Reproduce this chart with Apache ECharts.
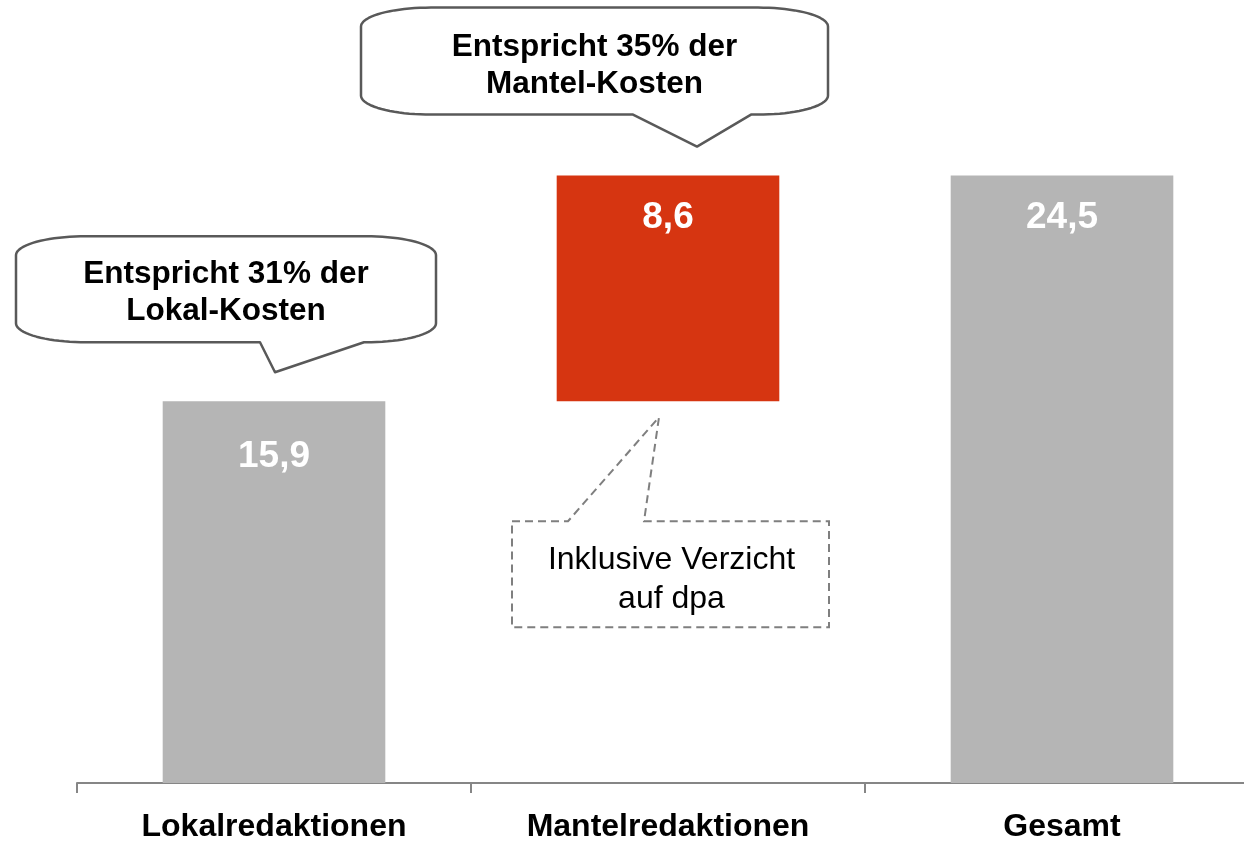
<!DOCTYPE html>
<html>
<head>
<meta charset="utf-8">
<script src="https://cdn.jsdelivr.net/npm/echarts@6/dist/echarts.min.js"></script>
<style>
  html, body { margin: 0; padding: 0; background: #ffffff; overflow: hidden; width: 1244px; height: 843px; }
  #chart { width: 1262px; height: 843px; }
</style>
</head>
<body>
<div id="chart"></div>
<script>
// ---- data ----
const categories = ['Lokalredaktionen', 'Mantelredaktionen', 'Gesamt'];
const values = [15.9, 8.6, 24.5];
const isTotal = [false, false, true];
const calloutLokal = ['Entspricht 31% der', 'Lokal-Kosten'];
const calloutMantel = ['Entspricht 35% der', 'Mantel-Kosten'];
const noteMantel = ['Inklusive Verzicht', 'auf dpa'];

// ---- styles ----
const FONT = "'Liberation Sans', Arial, Helvetica, sans-serif";
const GRAY = '#b5b5b5';
const RED = '#d63511';

// waterfall bases derived from the values
const bases = [];
let running = 0;
values.forEach((v, i) => {
  if (isTotal[i]) { bases.push(0); }
  else { bases.push(running); running += v; }
});

const fmt = v => v.toFixed(1).replace('.', ',');

const chart = echarts.init(document.getElementById('chart'), null, { renderer: 'canvas', width: 1262, height: 843 });

chart.setOption({
  animation: false,
  backgroundColor: '#ffffff',
  grid: { left: 77, top: 110, width: 1182, height: 675, containLabel: false },
  xAxis: {
    type: 'category',
    data: categories,
    axisLine: { show: true, lineStyle: { color: '#868686', width: 2 } },
    axisTick: { show: true, length: 10, lineStyle: { color: '#868686', width: 2 } },
    axisLabel: { color: '#000000', fontFamily: FONT, fontWeight: 'bold', fontSize: 32, margin: 28 }
  },
  yAxis: { type: 'value', min: 1.35, max: 27, show: false, splitLine: { show: false } },
  series: [
    {
      type: 'bar',
      stack: 'wf',
      silent: true,
      barWidth: '56.5%',
      itemStyle: { color: 'transparent' },
      data: bases
    },
    {
      type: 'bar',
      stack: 'wf',
      barWidth: '56.5%',
      itemStyle: {
        color: p => (isTotal[p.dataIndex] || p.dataIndex === 0) ? GRAY : RED
      },
      label: {
        show: true,
        position: 'insideTop',
        color: '#ffffff',
        fontFamily: FONT,
        fontWeight: 'bold',
        fontSize: 37,
        lineHeight: 38,
        formatter: p => fmt(p.value)
      },
      data: values.map((v, i) => ({ value: v, label: { distance: i === 0 ? 37 : 23 } }))
    }
  ]
});

// ---- callouts anchored to the bars ----
function px(cat, val) { return chart.convertToPixel({ gridIndex: 0 }, [cat, val]); }

function quarter(cx, cy, rx, ry, a0, a1, n) {
  const pts = [];
  for (let k = 0; k <= n; k++) {
    const a = a0 + (a1 - a0) * k / n;
    pts.push([cx + rx * Math.cos(a), cy + ry * Math.sin(a)]);
  }
  return pts;
}

function bubblePoints(x0, y0, x1, y1, b1, tip, b2) {
  const rx = 70, ry = 19, n = 20, P = Math.PI;
  let pts = [];
  pts = pts.concat(quarter(x0 + rx, y0 + ry, rx, ry, P, 1.5 * P, n));
  pts = pts.concat(quarter(x1 - rx, y0 + ry, rx, ry, 1.5 * P, 2 * P, n));
  pts = pts.concat(quarter(x1 - rx, y1 - ry, rx, ry, 0, 0.5 * P, n));
  pts.push([b2, y1]);
  pts.push(tip);
  pts.push([b1, y1]);
  pts = pts.concat(quarter(x0 + rx, y1 - ry, rx, ry, 0.5 * P, P, n));
  return pts;
}

const pL = px(0, bases[0] + values[0]);
const pM = px(1, bases[1] + values[1]);
const pMb = px(1, bases[1]);

const tipL = [pL[0] + 1, pL[1] - 29];
const boxL = { x0: pL[0] - 258, x1: pL[0] + 162, y1: tipL[1] - 30 };
boxL.y0 = boxL.y1 - 106;

const tipM = [pM[0] + 29, pM[1] - 29];
const boxM = { x0: pM[0] - 307, x1: pM[0] + 160, y1: tipM[1] - 32 };
boxM.y0 = boxM.y1 - 107;

const tipN = [pMb[0] - 9, pMb[1] + 16];
const boxN = { x0: pMb[0] - 156, x1: pMb[0] + 161, y0: tipN[1] + 104 };
boxN.y1 = boxN.y0 + 106;

const bubbleStyle = { fill: '#ffffff', stroke: '#595959', lineWidth: 2.5, lineJoin: 'round' };
const boldText = { fill: '#000000', font: 'bold 31.5px ' + FONT, textAlign: 'center', textVerticalAlign: 'middle', lineHeight: 37 };

chart.setOption({
  graphic: [
    {
      type: 'polygon', z: 100,
      shape: { points: bubblePoints(boxL.x0, boxL.y0, boxL.x1, boxL.y1, tipL[0] - 15, tipL, tipL[0] + 89) },
      style: bubbleStyle
    },
    {
      type: 'text', z: 101,
      x: (boxL.x0 + boxL.x1) / 2, y: (boxL.y0 + boxL.y1) / 2 + 4,
      style: Object.assign({ text: calloutLokal.join('\n') }, boldText)
    },
    {
      type: 'polygon', z: 100,
      shape: { points: bubblePoints(boxM.x0, boxM.y0, boxM.x1, boxM.y1, tipM[0] - 64, tipM, tipM[0] + 54) },
      style: bubbleStyle
    },
    {
      type: 'text', z: 101,
      x: (boxM.x0 + boxM.x1) / 2, y: (boxM.y0 + boxM.y1) / 2 + 5,
      style: Object.assign({ text: calloutMantel.join('\n') }, boldText)
    },
    {
      type: 'polygon', z: 100,
      shape: {
        points: [
          [boxN.x0, boxN.y0], [tipN[0] - 91, boxN.y0], tipN, [tipN[0] - 15, boxN.y0],
          [boxN.x1, boxN.y0], [boxN.x1, boxN.y1], [boxN.x0, boxN.y1]
        ]
      },
      style: { fill: '#ffffff', stroke: '#7f7f7f', lineWidth: 2, lineDash: [8, 5] }
    },
    {
      type: 'text', z: 101,
      x: (boxN.x0 + boxN.x1) / 2 + 1, y: (boxN.y0 + boxN.y1) / 2 + 5,
      style: { text: noteMantel.join('\n'), fill: '#000000', font: '32px ' + FONT, textAlign: 'center', textVerticalAlign: 'middle', lineHeight: 39 }
    }
  ]
});
</script>
</body>
</html>
